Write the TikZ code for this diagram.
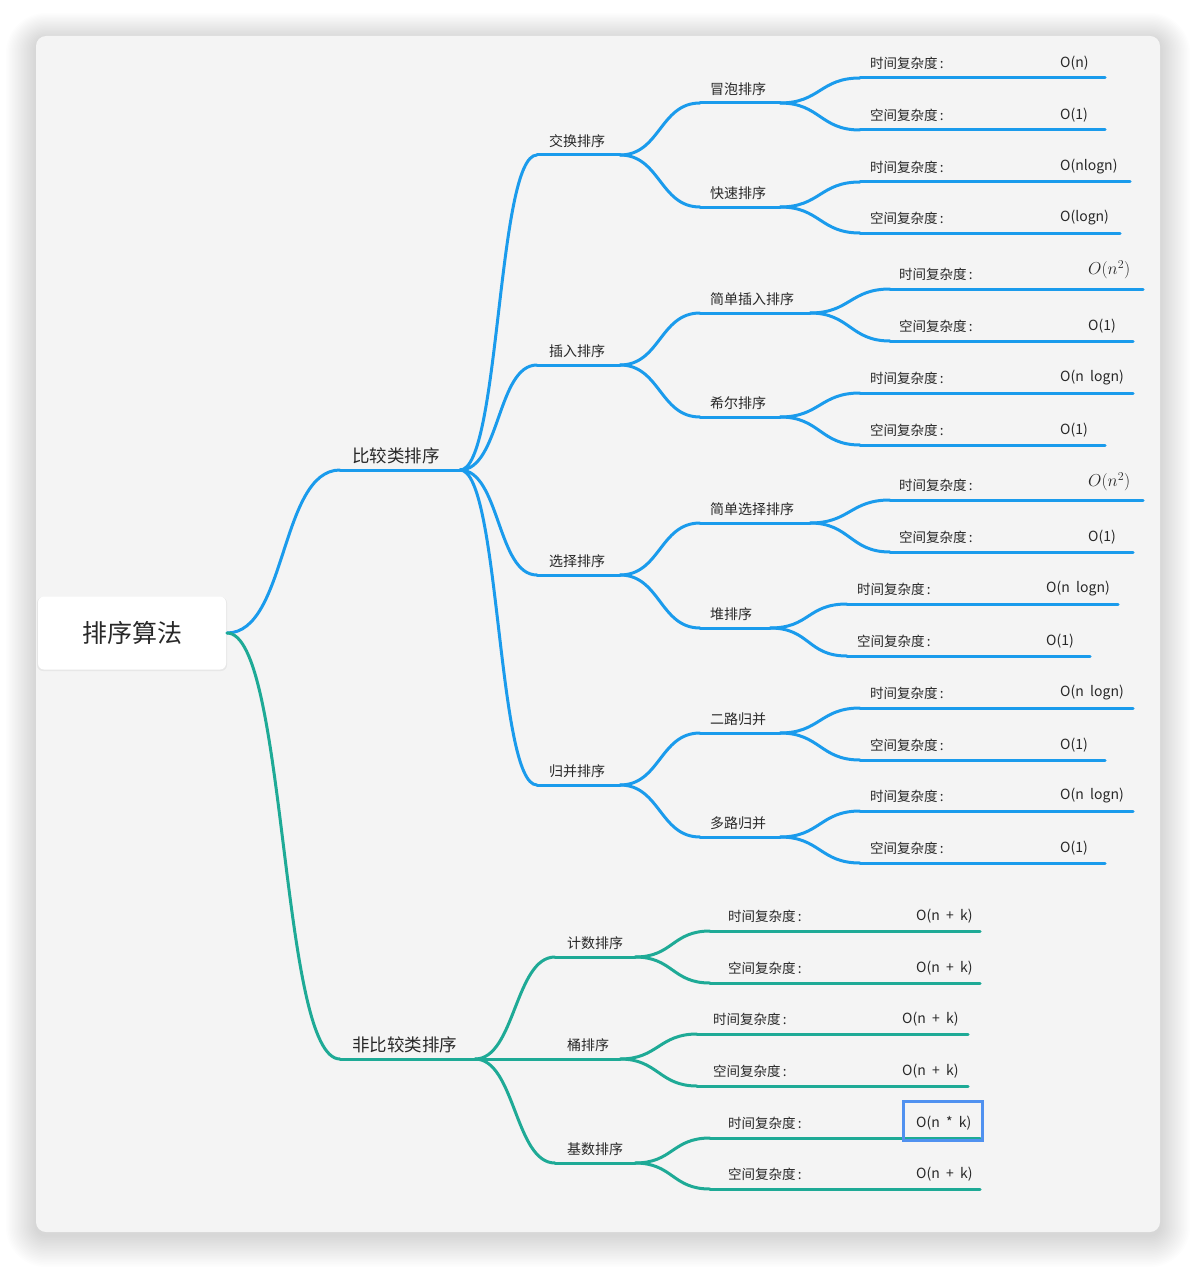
\documentclass[tikz,border=0pt]{standalone}
\usepackage{fontspec}
\setmainfont{Noto Sans CJK SC}
\definecolor{bl}{RGB}{26,155,236}
\definecolor{gr}{RGB}{30,170,150}
\definecolor{bgc}{RGB}{244,244,244}
\definecolor{hl}{RGB}{80,145,240}
\definecolor{txt}{RGB}{40,40,40}
\tikzset{
  lbl/.style={anchor=west, inner sep=0pt, text=txt, font=\fontsize{13.5}{15}\selectfont},
  vall/.style={anchor=west, inner sep=0pt, text=txt, font=\fontsize{14}{16}\selectfont},
  midl/.style={lbl, font=\fontsize{14}{16}\selectfont},
  bigl/.style={lbl, font=\fontsize{17.5}{20}\selectfont},
  mathl/.style={lbl, font=\fontsize{17}{20}\selectfont},
  bline/.style={draw=bl, line width=3pt, line cap=round},
  gline/.style={draw=gr, line width=3pt, line cap=round},
}
% #1 name #2 line style #3 sx #4 ex #5 y #6 textx #7 label style #8 text
\newcommand\mmtopic[8]{%
  \coordinate (#1-s) at (#3,#5);
  \coordinate (#1-e) at (#4,#5);
  \draw[#2] (#1-s) -- (#1-e);
  \node[#7] (#1-l) at (#6,#5-14) {#8};
}
% #1 name #2 line style #3 sx #4 ex #5 y #6 textx #7 valx #8 label #9 value
\newcommand\mmleaf[9]{%
  \coordinate (#1-s) at (#3,#5);
  \coordinate (#1-e) at (#4,#5);
  \draw[#2] (#1-s) -- (#1-e);
  \node[lbl] (#1-l) at (#6,#5-15) {#8\,:};
  \node[vall] (#1-v) at (#7,#5-15) {#9};
}
\newcommand\mmconn[4]{%
  \draw[#1] (#2) .. controls +(#4,0) and +(-#4,0) .. (#3);
}
\newcommand\mmsp{\hspace{0.45em}}
\begin{document}
\begin{tikzpicture}[x=1pt,y=-1pt]
\useasboundingbox (0,0) rectangle (1196,1268);
\fill[white] (0,0) rectangle (1196,1268);
% shadow
\foreach \i in {1,...,20}{
  \fill[black,opacity=0.0095,rounded corners=\fpeval{10+\i*1.5}pt]
    (36-\i*1.5,36-\i*1.3+3) rectangle (1160+\i*1.5,1232+\i*1.6+3);
}
\fill[bgc,rounded corners=10pt] (36,36) rectangle (1160,1232);
% root
\fill[black,opacity=0.05,rounded corners=6pt] (37,597) rectangle (227,671);
\node[fill=white,rounded corners=6pt,minimum width=188pt,minimum height=73pt,inner sep=0pt,
  text=txt,font=\fontsize{25}{30}\selectfont] (root) at (132,633) {排序算法};
\coordinate (root-e) at (227,633);

% level 1
\mmtopic{cmp}{bline}{340}{460}{470}{352}{bigl}{比较类排序}
\mmtopic{ncmp}{gline}{340}{475}{1059}{352}{bigl}{非比较类排序}
\mmconn{bline}{root-e}{cmp-s}{60}
\mmconn{gline}{root-e}{ncmp-s}{60}

% blue level 2
\mmtopic{swap}{bline}{537}{620}{155}{549}{midl}{交换排序}
\mmtopic{ins}{bline}{537}{620}{365}{549}{midl}{插入排序}
\mmtopic{sel}{bline}{537}{620}{575}{549}{midl}{选择排序}
\mmtopic{mrg}{bline}{537}{620}{785}{549}{midl}{归并排序}
\foreach \n in {swap,ins,sel,mrg}{\mmconn{bline}{cmp-e}{\n-s}{40}}

% blue level 3
\mmtopic{bub}{bline}{700}{780}{103}{710}{midl}{冒泡排序}
\mmtopic{qck}{bline}{700}{780}{207}{710}{midl}{快速排序}
\mmtopic{sins}{bline}{700}{810}{313}{710}{midl}{简单插入排序}
\mmtopic{shl}{bline}{700}{780}{417}{710}{midl}{希尔排序}
\mmtopic{ssel}{bline}{700}{810}{523}{710}{midl}{简单选择排序}
\mmtopic{hp}{bline}{700}{770}{628}{710}{midl}{堆排序}
\mmtopic{mtw}{bline}{700}{780}{733}{710}{midl}{二路归并}
\mmtopic{mk}{bline}{700}{780}{837}{710}{midl}{多路归并}
\mmconn{bline}{swap-e}{bub-s}{40}
\mmconn{bline}{swap-e}{qck-s}{40}
\mmconn{bline}{ins-e}{sins-s}{40}
\mmconn{bline}{ins-e}{shl-s}{40}
\mmconn{bline}{sel-e}{ssel-s}{40}
\mmconn{bline}{sel-e}{hp-s}{40}
\mmconn{bline}{mrg-e}{mtw-s}{40}
\mmconn{bline}{mrg-e}{mk-s}{40}

% blue leaves
\mmleaf{bubt}{bline}{860}{1105}{78}{870}{1060}{时间复杂度}{O(n)}
\mmleaf{bubs}{bline}{860}{1105}{130}{870}{1060}{空间复杂度}{O(1)}
\mmleaf{qckt}{bline}{860}{1130}{182}{870}{1060}{时间复杂度}{O(nlogn)}
\mmleaf{qcks}{bline}{860}{1120}{233}{870}{1060}{空间复杂度}{O(logn)}
\mmleaf{sinst}{bline}{890}{1143}{289}{899}{1088}{时间复杂度}{}
\node[mathl] (sinst-m) at (1088,270) {$O(n^2)$};
\mmleaf{sinss}{bline}{890}{1133}{341}{899}{1088}{空间复杂度}{O(1)}
\mmleaf{shlt}{bline}{860}{1133}{393}{870}{1060}{时间复杂度}{O(n\mmsp logn)}
\mmleaf{shls}{bline}{860}{1105}{445}{870}{1060}{空间复杂度}{O(1)}
\mmleaf{sselt}{bline}{890}{1143}{500}{899}{1088}{时间复杂度}{}
\node[mathl] (sselt-m) at (1088,482) {$O(n^2)$};
\mmleaf{ssels}{bline}{890}{1133}{552}{899}{1088}{空间复杂度}{O(1)}
\mmleaf{hpt}{bline}{847}{1118}{604}{857}{1046}{时间复杂度}{O(n\mmsp logn)}
\mmleaf{hps}{bline}{847}{1090}{656}{857}{1046}{空间复杂度}{O(1)}
\mmleaf{mtwt}{bline}{860}{1133}{708}{870}{1060}{时间复杂度}{O(n\mmsp logn)}
\mmleaf{mtws}{bline}{860}{1105}{760}{870}{1060}{空间复杂度}{O(1)}
\mmleaf{mkt}{bline}{860}{1133}{811}{870}{1060}{时间复杂度}{O(n\mmsp logn)}
\mmleaf{mks}{bline}{860}{1105}{863}{870}{1060}{空间复杂度}{O(1)}
\mmconn{bline}{bub-e}{bubt-s}{40}
\mmconn{bline}{bub-e}{bubs-s}{40}
\mmconn{bline}{qck-e}{qckt-s}{40}
\mmconn{bline}{qck-e}{qcks-s}{40}
\mmconn{bline}{sins-e}{sinst-s}{40}
\mmconn{bline}{sins-e}{sinss-s}{40}
\mmconn{bline}{shl-e}{shlt-s}{40}
\mmconn{bline}{shl-e}{shls-s}{40}
\mmconn{bline}{ssel-e}{sselt-s}{40}
\mmconn{bline}{ssel-e}{ssels-s}{40}
\mmconn{bline}{hp-e}{hpt-s}{40}
\mmconn{bline}{hp-e}{hps-s}{40}
\mmconn{bline}{mtw-e}{mtwt-s}{40}
\mmconn{bline}{mtw-e}{mtws-s}{40}
\mmconn{bline}{mk-e}{mkt-s}{40}
\mmconn{bline}{mk-e}{mks-s}{40}

% green level 2
\mmtopic{cnt}{gline}{555}{635}{957}{567}{midl}{计数排序}
\mmtopic{bkt}{gline}{555}{620}{1059}{567}{midl}{桶排序}
\mmtopic{rdx}{gline}{555}{635}{1163}{567}{midl}{基数排序}
\mmconn{gline}{ncmp-e}{cnt-s}{40}
\draw[gline] (ncmp-e) -- (bkt-s);
\mmconn{gline}{ncmp-e}{rdx-s}{40}

% green leaves
\mmleaf{cntt}{gline}{710}{980}{931}{728}{916}{时间复杂度}{O(n\mmsp+\mmsp k)}
\mmleaf{cnts}{gline}{710}{980}{983}{728}{916}{空间复杂度}{O(n\mmsp+\mmsp k)}
\mmleaf{bktt}{gline}{697}{968}{1034}{713}{902}{时间复杂度}{O(n\mmsp+\mmsp k)}
\mmleaf{bkts}{gline}{697}{968}{1086}{713}{902}{空间复杂度}{O(n\mmsp+\mmsp k)}
\mmleaf{rdxt}{gline}{710}{980}{1138}{728}{916}{时间复杂度}{O(n\mmsp*\mmsp k)}
\mmleaf{rdxs}{gline}{710}{980}{1189}{728}{916}{空间复杂度}{O(n\mmsp+\mmsp k)}
\mmconn{gline}{cnt-e}{cntt-s}{38}
\mmconn{gline}{cnt-e}{cnts-s}{38}
\mmconn{gline}{bkt-e}{bktt-s}{38}
\mmconn{gline}{bkt-e}{bkts-s}{38}
\mmconn{gline}{rdx-e}{rdxt-s}{38}
\mmconn{gline}{rdx-e}{rdxs-s}{38}

% highlight
\draw[hl,line width=3pt] (903,1101) rectangle (982,1140);
\end{tikzpicture}
\end{document}
